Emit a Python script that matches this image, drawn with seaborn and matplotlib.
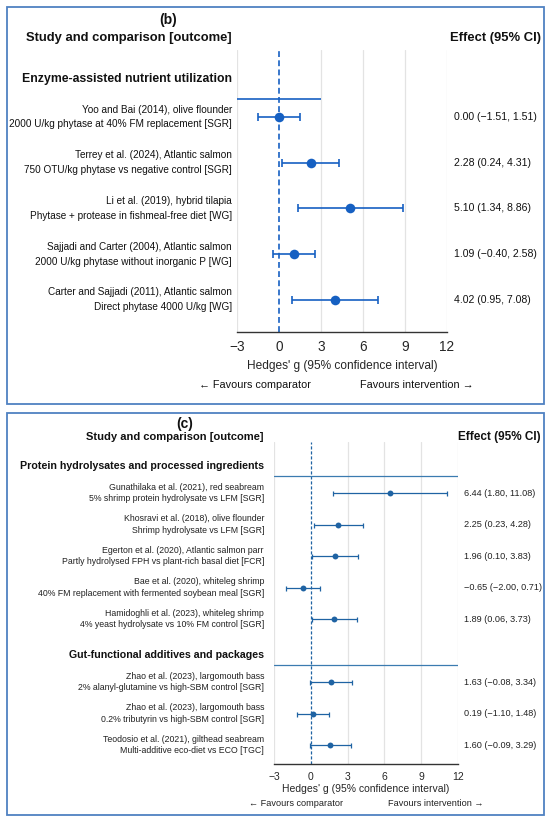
import numpy as np
import pandas as pd
import matplotlib
matplotlib.use("Agg")
import matplotlib.pyplot as plt
import matplotlib.transforms as mtransforms
from matplotlib.patches import Rectangle
import seaborn as sns

# ---------------- data ----------------
b_section = "Enzyme-assisted nutrient utilization"
b_studies = [
    "Yoo and Bai (2014), olive flounder",
    "Terrey et al. (2024), Atlantic salmon",
    "Li et al. (2019), hybrid tilapia",
    "Sajjadi and Carter (2004), Atlantic salmon",
    "Carter and Sajjadi (2011), Atlantic salmon",
]
b_comparisons = [
    "2000 U/kg phytase at 40% FM replacement [SGR]",
    "750 OTU/kg phytase vs negative control [SGR]",
    "Phytase + protease in fishmeal-free diet [WG]",
    "2000 U/kg phytase without inorganic P [WG]",
    "Direct phytase 4000 U/kg [WG]",
]
b_est = [0.00, 2.28, 5.10, 1.09, 4.02]
b_lo = [-1.51, 0.24, 1.34, -0.40, 0.95]
b_hi = [1.51, 4.31, 8.86, 2.58, 7.08]

c_sections = ["Protein hydrolysates and processed ingredients",
              "Gut-functional additives and packages"]
c_group = [0, 0, 0, 0, 0, 1, 1, 1]
c_studies = [
    "Gunathilaka et al. (2021), red seabream",
    "Khosravi et al. (2018), olive flounder",
    "Egerton et al. (2020), Atlantic salmon parr",
    "Bae et al. (2020), whiteleg shrimp",
    "Hamidoghli et al. (2023), whiteleg shrimp",
    "Zhao et al. (2023), largomouth bass",
    "Zhao et al. (2023), largomouth bass",
    "Teodosio et al. (2021), gilthead seabream",
]
c_comparisons = [
    "5% shrimp protein hydrolysate vs LFM [SGR]",
    "Shrimp hydrolysate vs LFM [SGR]",
    "Partly hydrolysed FPH vs plant-rich basal diet [FCR]",
    "40% FM replacement with fermented soybean meal [SGR]",
    "4% yeast hydrolysate vs 10% FM control [SGR]",
    "2% alanyl-glutamine vs high-SBM control [SGR]",
    "0.2% tributyrin vs high-SBM control [SGR]",
    "Multi-additive eco-diet vs ECO [TGC]",
]
c_est = [6.44, 2.25, 1.96, -0.65, 1.89, 1.63, 0.19, 1.60]
c_lo = [1.80, 0.23, 0.10, -2.00, 0.06, -0.08, -1.10, -0.09]
c_hi = [11.08, 4.28, 3.83, 0.71, 3.73, 3.34, 1.48, 3.29]

x_ticks = [-3, 0, 3, 6, 9, 12]
x_label = "Hedges' g (95% confidence interval)"
left_note = "\u2190 Favours comparator"
right_note = "Favours intervention \u2192"

# ---------------- style ----------------
sns.set_theme(style="white")
SANS = ['Liberation Sans', 'DejaVu Sans']
plt.rcParams['font.family'] = SANS
plt.rcParams['axes.unicode_minus'] = True

W, H = 550, 821
fig = plt.figure(figsize=(W / 100, H / 100), dpi=100)
fig.patch.set_facecolor("white")


def fx(px):
    return px / W


def fy(py):
    return 1 - py / H


def fmt(v):
    return f"{v:.2f}".replace("-", "\u2212")


def effect_text(e, lo, hi):
    return f"{fmt(e)} ({fmt(lo)}, {fmt(hi)})"


BORDER = "#4f81c2"
for (y0, y1) in [(7, 404), (413, 815)]:
    fig.patches.append(Rectangle((fx(7), fy(y1)), fx(544) - fx(7), fy(y0) - fy(y1),
                                 transform=fig.transFigure, fill=False,
                                 edgecolor=BORDER, linewidth=1.3))


def make_axes(xl, xr, yt, yb):
    return fig.add_axes([fx(xl), fy(yb), fx(xr) - fx(xl), fy(yt) - fy(yb)])


def style_axes(ax, ylim, tick_fs, lab_fs, labelpad):
    ax.set_xlim(-3, 12)
    ax.set_ylim(*ylim)
    ax.set_xticks(x_ticks)
    ax.set_xticklabels([str(t).replace("-", "\u2212") for t in x_ticks], fontsize=tick_fs)
    ax.set_yticks([])
    ax.set_ylabel("")
    ax.set_xlabel(x_label, fontsize=lab_fs, labelpad=labelpad)
    for s in ["top", "right", "left"]:
        ax.spines[s].set_visible(False)
    ax.spines["bottom"].set_color("#333333")
    ax.spines["bottom"].set_linewidth(1.0)
    ax.tick_params(axis="x", direction="out", length=4, width=1.0, color="#333333", pad=2)
    ax.set_facecolor("white")
    for g in [-3, 3, 6, 9, 12]:
        ax.axvline(g, color="#e3e3e3", linewidth=0.9, zorder=0)
    legend = ax.get_legend()
    if legend is not None:
        legend.remove()


# ================= panel (b) =================
BLUE_B = "#1660c2"
b_row_px0, b_row_step = 117, 45.7
b_ax = make_axes(237, 447, 50, 332)
b_y = np.arange(len(b_est))
b_df = pd.DataFrame({"est": b_est, "lo": b_lo, "hi": b_hi, "row": b_y})
b_ax.errorbar(b_df["est"], b_df["row"],
              xerr=[b_df["est"] - b_df["lo"], b_df["hi"] - b_df["est"]],
              fmt="none", ecolor=BLUE_B, elinewidth=1.2, capsize=2.6, capthick=1.2, zorder=3)
sns.scatterplot(data=b_df, x="est", y="row", ax=b_ax, color=BLUE_B, s=48,
                edgecolor=BLUE_B, linewidth=0, zorder=4)
b_ylim = ((332 - b_row_px0) / b_row_step, (50 - b_row_px0) / b_row_step)
style_axes(b_ax, b_ylim, tick_fs=9.8, lab_fs=8.6, labelpad=4)
b_ax.axvline(0, color=BLUE_B, linewidth=1.2, linestyle=(0, (3.5, 2)), zorder=2)
b_ax.hlines(-1 + 0.6, -3, 3, color=BLUE_B, linewidth=1.2, zorder=2)

tb = mtransforms.blended_transform_factory(fig.transFigure, b_ax.transData)
for i in range(len(b_est)):
    fig.text(fx(232), b_y[i], b_studies[i] + "\n" + b_comparisons[i], transform=tb,
             ha="right", va="center", fontsize=7.2, linespacing=1.6, color="#111111")
    fig.text(fx(454), b_y[i], effect_text(b_est[i], b_lo[i], b_hi[i]), transform=tb,
             ha="left", va="center", fontsize=7.6, color="#111111")
fig.text(fx(232), -1 + 0.17, b_section, transform=tb, ha="right", va="center",
         fontsize=8.8, fontweight="bold", color="#111111")
fig.text(fx(168), fy(20), "(b)", ha="center", va="center", fontsize=10,
         fontweight="bold", color="#111111")
fig.text(fx(232), fy(38), "Study and comparison [outcome]", ha="right", va="center",
         fontsize=9.4, fontweight="bold", color="#111111")
fig.text(fx(541), fy(38), "Effect (95% CI)", ha="right", va="center",
         fontsize=9.4, fontweight="bold", color="#111111")
fig.text(fx(255), fy(385), left_note, ha="center", va="center", fontsize=7.8, color="#111111")
fig.text(fx(417), fy(385), right_note, ha="center", va="center", fontsize=7.8, color="#111111")

# ================= panel (c) =================
BLUE_C = "#1f63a3"
c_row_px0, c_row_step = 493, 31.5
c_ax = make_axes(274, 458, 442, 764)
# rows: a slot for each section header followed by its studies
c_rows = []
c_header_rows = []
slot = -1
prev = None
for g in c_group:
    if g != prev:
        if prev is not None:
            slot += 1
        c_header_rows.append(slot)
        prev = g
    slot += 1
    c_rows.append(slot)
c_rows = np.array(c_rows)
c_df = pd.DataFrame({"est": c_est, "lo": c_lo, "hi": c_hi, "row": c_rows})
c_ax.errorbar(c_df["est"], c_df["row"],
              xerr=[c_df["est"] - c_df["lo"], c_df["hi"] - c_df["est"]],
              fmt="none", ecolor=BLUE_C, elinewidth=0.9, capsize=1.8, capthick=0.9, zorder=3)
sns.scatterplot(data=c_df, x="est", y="row", ax=c_ax, color=BLUE_C, s=18,
                edgecolor=BLUE_C, linewidth=0, zorder=4)
c_ylim = ((764 - c_row_px0) / c_row_step, (442 - c_row_px0) / c_row_step)
style_axes(c_ax, c_ylim, tick_fs=7.5, lab_fs=7.5, labelpad=1)
c_ax.axvline(0, color=BLUE_C, linewidth=0.9, linestyle=(0, (2.5, 1.5)), zorder=2)
tc = mtransforms.blended_transform_factory(fig.transFigure, c_ax.transData)
for k, hr in enumerate(c_header_rows):
    c_ax.axhline(hr + 0.47, color="#3b7bb0", linewidth=0.9, zorder=2)
    fig.text(fx(264), hr + 0.15, c_sections[k], transform=tc, ha="right", va="center",
             fontsize=7.7, fontweight="bold", color="#111111")
for i in range(len(c_est)):
    fig.text(fx(264), c_rows[i], c_studies[i] + "\n" + c_comparisons[i], transform=tc,
             ha="right", va="center", fontsize=6.3, linespacing=1.3,
             color="#222222")
    fig.text(fx(464), c_rows[i], effect_text(c_est[i], c_lo[i], c_hi[i]), transform=tc,
             ha="left", va="center", fontsize=6.6, color="#222222")
fig.text(fx(185), fy(424), "(c)", ha="center", va="center", fontsize=10,
         fontweight="bold", color="#111111")
fig.text(fx(264), fy(437), "Study and comparison [outcome]", ha="right", va="center",
         fontsize=8.0, fontweight="bold", color="#111111")
fig.text(fx(541), fy(437), "Effect (95% CI)", ha="right", va="center",
         fontsize=8.5, fontweight="bold", color="#111111")
fig.text(fx(296), fy(803), left_note, ha="center", va="center", fontsize=6.6,
         color="#222222")
fig.text(fx(436), fy(803), right_note, ha="center", va="center", fontsize=6.6,
         color="#222222")

fig.savefig("out.png", dpi=100, facecolor="white")
